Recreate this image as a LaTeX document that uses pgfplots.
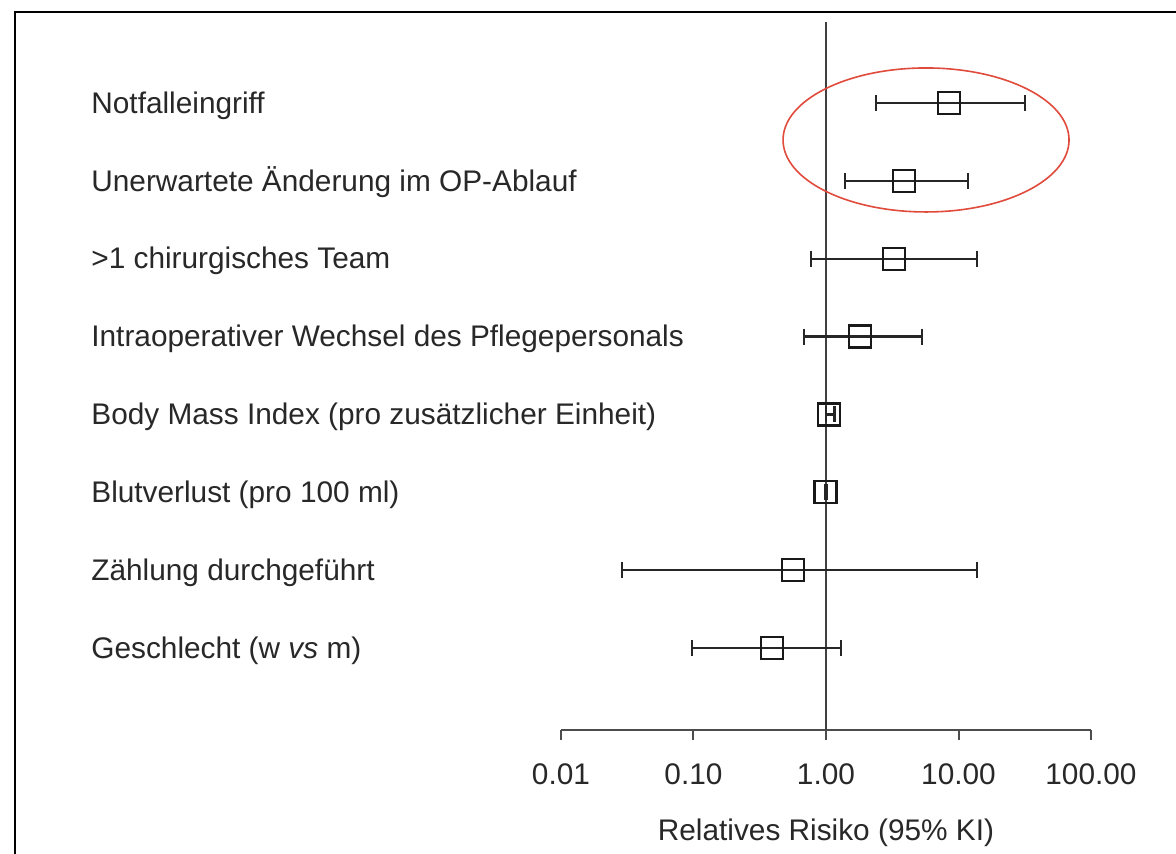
\documentclass[border=0pt]{standalone}
\usepackage{fontspec}
\setmainfont{Liberation Sans}
\usepackage{pgfplots}
\usepackage{pgfplotstable}
\pgfplotsset{compat=1.18}
\definecolor{txt}{RGB}{40,40,40}
\definecolor{ell}{RGB}{225,75,60}
\pgfplotstableread{
y rr lo hi
8 8.5 2.38 31.9
7 3.88 1.39 11.8
6 3.26 0.77 13.8
5 1.80 0.68 5.3
4 1.05 1.00 1.16
3 0.99 0.98 1.01
2 0.563 0.0289 13.8
1 0.391 0.0968 1.29
}\datatab
\begin{document}
\begin{tikzpicture}
\useasboundingbox (-280.5pt,-61.5pt) rectangle (307.5pt,365pt);
\clip (-280.5pt,-61.5pt) rectangle (307.5pt,365pt);
\fill[white] (-280.5pt,-61.5pt) rectangle (307.5pt,365pt);
\draw[line width=1pt,black] (-273pt,-70pt) -- (-273pt,359pt) -- (320pt,359pt);
\begin{axis}[
  at={(0pt,0pt)}, anchor=south west,
  scale only axis, width=265pt, height=354pt,
  xmode=log, xmin=0.01, xmax=100,
  ymin=-0.053, ymax=9.04,
  axis x line*=bottom, axis y line=none,
  x axis line style={-, line width=1pt, black!70},
  xtick={0.01,0.1,1,10,100},
  xticklabels={0.01,0.10,1.00,10.00,100.00},
  xminorticks=false,
  tick align=outside,
  major tick length=5pt,
  x tick style={line width=1pt, black!70},
  xticklabel style={anchor=north, yshift=-8.5pt, text=txt},
  font=\fontsize{14.9}{18}\selectfont,
  xlabel={Relatives Risiko (95\% KI)},
  xlabel style={at={(axis description cs:0.5,0)}, anchor=north, yshift=-41pt, text=txt},
  clip=false,
]
\addplot[black!75, line width=0.9pt] coordinates {(1,-0.053) (1,9.04)};
\pgfplotsinvokeforeach{0,...,7}{
  \pgfplotstablegetelem{#1}{y}\of\datatab \let\yy\pgfplotsretval
  \pgfplotstablegetelem{#1}{lo}\of\datatab \let\lo\pgfplotsretval
  \pgfplotstablegetelem{#1}{hi}\of\datatab \let\hi\pgfplotsretval
  \edef\tmp{\noexpand\addplot[black!85, line width=1.1pt, mark=|, mark size=4pt, mark options={line width=1.1pt}] coordinates {(\lo,\yy) (\hi,\yy)};}
  \tmp
}
\addplot[only marks, mark=square, mark size=5.5pt, mark options={line width=1.2pt, black!90}] table[x=rr, y=y] {\datatab};
\draw[ell, line width=0.8pt] (axis cs:5.69,7.525) ellipse [x radius=71.5pt, y radius=36pt];
\begin{scope}[every node/.style={anchor=mid west, inner sep=0pt, text=txt, font=\fontsize{14.9}{18}\selectfont}]
\node at ([xshift=-235pt, yshift=-2.5pt]axis cs:0.01,8) {Notfalleingriff};
\node at ([xshift=-235pt, yshift=-2.5pt]axis cs:0.01,7) {Unerwartete Änderung im OP-Ablauf};
\node at ([xshift=-235pt, yshift=-2.5pt]axis cs:0.01,6) {>1 chirurgisches Team};
\node at ([xshift=-235pt, yshift=-2.5pt]axis cs:0.01,5) {Intraoperativer Wechsel des Pflegepersonals};
\node at ([xshift=-235pt, yshift=-2.5pt]axis cs:0.01,4) {Body Mass Index (pro zusätzlicher Einheit)};
\node at ([xshift=-235pt, yshift=-2.5pt]axis cs:0.01,3) {Blutverlust (pro 100 ml)};
\node at ([xshift=-235pt, yshift=-2.5pt]axis cs:0.01,2) {Zählung durchgeführt};
\node at ([xshift=-235pt, yshift=-2.5pt]axis cs:0.01,1) {Geschlecht (w \textit{vs} m)};
\end{scope}
\end{axis}
\end{tikzpicture}
\end{document}
